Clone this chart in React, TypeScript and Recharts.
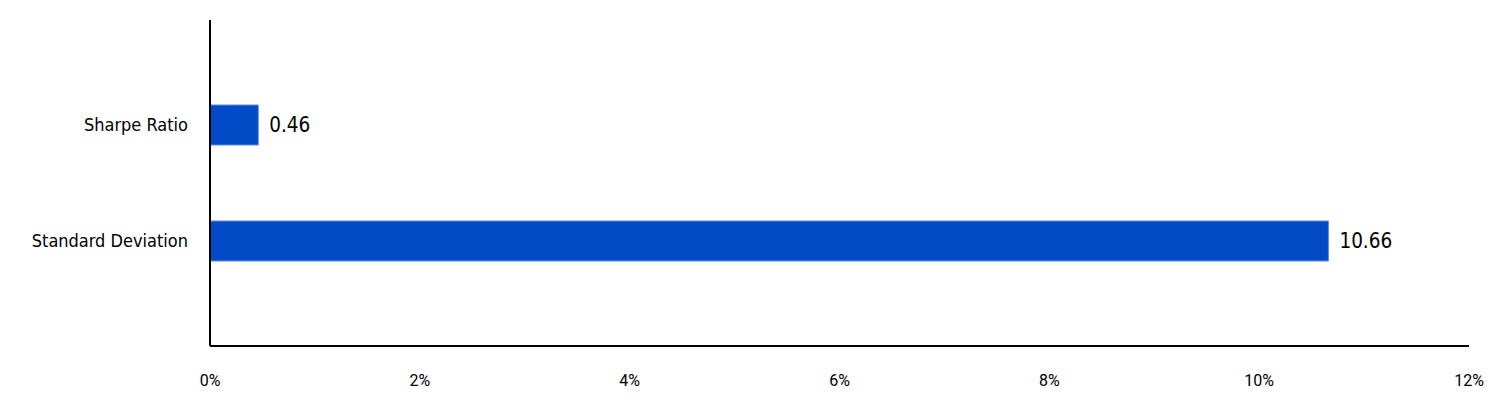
import React from "react";
import { BarChart, Bar, XAxis, YAxis, LabelList } from "recharts";

const categories = ["Sharpe Ratio", "Standard Deviation"];
const values = [0.46, 10.66];
const xTicks = [0, 2, 4, 6, 8, 10, 12];

const data = categories.map((name, i) => ({ name, value: values[i] }));

export default function App() {
  return (
    <div style={{ position: "absolute", left: 0, top: 0, width: 1512, height: 420, background: "#fff" }}>
      <BarChart
        width={1512}
        height={420}
        data={data}
        layout="vertical"
        margin={{ top: 20, right: 43, bottom: 0, left: 0 }}
      >
        <XAxis
          type="number"
          domain={[0, 12]}
          ticks={xTicks}
          tickFormatter={(v) => `${v}%`}
          axisLine={{ stroke: "#000", strokeWidth: 2 }}
          tickLine={false}
          height={74}
          tickMargin={23}
          tick={{ fill: "#000", fontSize: 16, fontFamily: "Roboto" }}
        />
        <YAxis
          type="category"
          dataKey="name"
          width={210}
          padding={{ top: 47, bottom: 47 }}
          axisLine={{ stroke: "#000", strokeWidth: 2 }}
          tickLine={false}
          tickMargin={16}
          tick={{ fill: "#000", fontSize: 18, fontFamily: "DejaVu Sans Condensed" }}
        />
        <Bar dataKey="value" fill="#024ac6" stroke="#5a8ae0" strokeWidth={1} barSize={40} isAnimationActive={false}>
          <LabelList
            dataKey="value"
            position="right"
            offset={11}
            fill="#000"
            style={{ fontSize: 20.5, fontFamily: "DejaVu Sans Condensed" }}
          />
        </Bar>
      </BarChart>
    </div>
  );
}
